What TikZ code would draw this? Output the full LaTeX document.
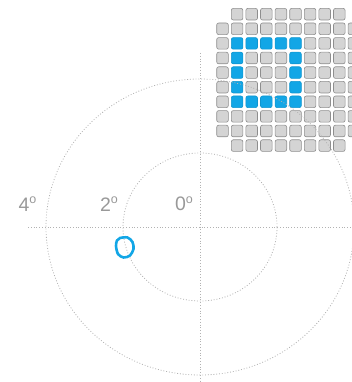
\documentclass[tikz,border=0pt]{standalone}
\usepackage{fontspec}
\setmainfont{Liberation Sans}
\usetikzlibrary{positioning}
\definecolor{gridgray}{HTML}{D4D4D4}
\definecolor{edgegray}{HTML}{8E8E8E}
\definecolor{cellblue}{HTML}{12A6E6}
\definecolor{labelgray}{HTML}{999999}
\newcommand{\degmark}{\raisebox{7.3pt}{\fontsize{12.5}{12.5}\selectfont o}}

\begin{document}
\begin{tikzpicture}[x=1pt, y=-1pt, font=\fontsize{19.5}{22}\selectfont,
  guide/.style={draw=gray!60, line width=0.8pt, dash pattern=on 0.9pt off 1.9pt},
  celloff/.style={draw=edgegray, fill=gridgray, line width=0.6pt, rounded corners=2pt, minimum size=11.6pt, inner sep=0pt},
  cellon/.style={celloff, draw=cellblue!90!black, fill=cellblue},
  deg/.style={text=labelgray, inner sep=0pt},
  blob/.style={draw=cellblue, line width=2.6pt}]
\useasboundingbox (0,0) rectangle (352,382);
\clip (0,0) rectangle (352,382);
% stimulus grid
\foreach \r in {0,...,9}{
  \foreach \c in {0,...,9}{
    \pgfmathtruncatemacro\corner{(\r==0 || \r==9) && (\c==0 || \c==9)}
    \pgfmathtruncatemacro\ring{(\r>=2 && \r<=6 && \c>=1 && \c<=5) && (\r==2 || \r==6 || \c==1 || \c==5)}
    \ifnum\corner=0
      \ifnum\ring=1
        \node[cellon] (cell-\r-\c) at ({222.5+14.6*\c},{14.2+14.6*\r}) {};
      \else
        \node[celloff] (cell-\r-\c) at ({222.5+14.6*\c},{14.2+14.6*\r}) {};
      \fi
    \fi
  }
}
% eccentricity rings and axes
\coordinate (fix) at (200,227);
\draw[guide] (fix) ellipse [x radius=154pt, y radius=148pt];
\draw[guide] (fix) ellipse [x radius=77pt, y radius=74pt];
\draw[guide] (200,53) -- (200,382);
\draw[guide] (28,227) -- (352,227);
\node[deg] (four) at (27.5,204) {4\degmark};
\node[deg] (two) at (109,204) {2\degmark};
\node[deg] (zero) at (184,204) {0\degmark};
% target
\draw[blob] plot[smooth cycle] coordinates {(120,238) (127.5,237.5) (132.5,242) (133.5,249) (130,255.5) (123.5,257.5) (118,254) (116,246) (117,240.5)};
\end{tikzpicture}
\end{document}
